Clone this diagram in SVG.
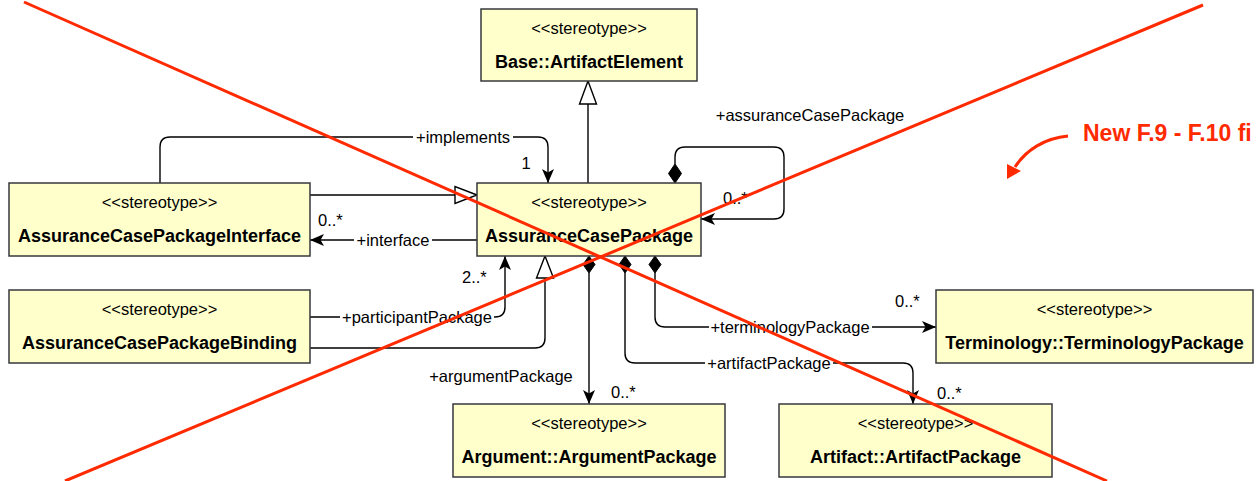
<svg xmlns="http://www.w3.org/2000/svg" width="1257" height="481" viewBox="0 0 1257 481">
<style>
.box{fill:#FFFFCC;stroke:#36393D;stroke-width:1.5}
.st{font-family:"Liberation Sans",Arial,sans-serif;font-size:16.5px;fill:#000;text-anchor:middle}
.nm{font-family:"Liberation Sans",Arial,sans-serif;font-size:18px;font-weight:bold;fill:#000;text-anchor:middle}
.lb{font-family:"Liberation Sans",Arial,sans-serif;font-size:16.5px;fill:#000}
.c{fill:none;stroke:#000;stroke-width:1.4}
.hol{fill:#fff;stroke:#000;stroke-width:1.4}
.dia{fill:#000;stroke:#000;stroke-width:1}
.red{stroke:#FF2A00;stroke-width:3;fill:none}
</style>
<defs>
<marker id="arr" markerWidth="16" markerHeight="14" refX="15" refY="7" orient="auto" markerUnits="userSpaceOnUse">
<path d="M1,1 L15,7 L1,13 L4.5,7 Z" fill="#000"/>
</marker>
</defs>

<g id="connectors">
<!-- generalization ACP -> Base -->
<path class="c" d="M588,183 V104"/>
<polygon class="hol" points="588,81 579.5,104 596.5,104"/>
<!-- implements -->
<path class="c" d="M160,183 V147 Q160,137 170,137 H538 Q548,137 548,147 V183" marker-end="url(#arr)"/>
<rect x="413" y="128" width="100" height="18" fill="#fff"/>
<text class="lb" x="463" y="143" text-anchor="middle">+implements</text>
<text class="lb" x="526" y="169" text-anchor="middle">1</text>
<!-- generalization Interface -> ACP -->
<path class="c" d="M310,195 H455"/>
<polygon class="hol" points="477,195 455,186.5 455,203.5"/>
<!-- interface -->
<path class="c" d="M477,240 H310" marker-end="url(#arr)"/>
<rect x="354" y="231" width="78" height="18" fill="#fff"/>
<text class="lb" x="393" y="246" text-anchor="middle">+interface</text>
<text class="lb" x="318" y="226">0..*</text>
<!-- participantPackage -->
<path class="c" d="M310,317 H495 Q505,317 505,307 V256" marker-end="url(#arr)"/>
<rect x="340" y="308" width="154" height="18" fill="#fff"/>
<text class="lb" x="417" y="323" text-anchor="middle">+participantPackage</text>
<text class="lb" x="462" y="283">2..*</text>
<!-- Binding generalization -> ACP -->
<path class="c" d="M310,348 H535 Q545,348 545,338 V278"/>
<polygon class="hol" points="545,256 536.5,278 553.5,278"/>
<!-- argumentPackage -->
<path class="c" d="M589,273 V404" marker-end="url(#arr)"/>
<polygon class="dia" points="589,256 595,264.5 589,273 583,264.5"/>
<text class="lb" x="501" y="382" text-anchor="middle">+argumentPackage</text>
<text class="lb" x="611" y="398">0..*</text>
<!-- artifactPackage -->
<path class="c" d="M625,273 V353 Q625,363 635,363 H903 Q913,363 913,373 V404" marker-end="url(#arr)"/>
<polygon class="dia" points="625,256 631,264.5 625,273 619,264.5"/>
<rect x="705" y="354" width="128" height="18" fill="#fff"/>
<text class="lb" x="769" y="369" text-anchor="middle">+artifactPackage</text>
<text class="lb" x="937" y="399">0..*</text>
<!-- terminologyPackage -->
<path class="c" d="M655,273 V317 Q655,327 665,327 H936" marker-end="url(#arr)"/>
<polygon class="dia" points="655,256 661,264.5 655,273 649,264.5"/>
<rect x="709" y="318" width="163" height="18" fill="#fff"/>
<text class="lb" x="790" y="333" text-anchor="middle">+terminologyPackage</text>
<text class="lb" x="895" y="307">0..*</text>
<!-- assuranceCasePackage self -->
<path class="c" d="M675,164 V157 Q675,147 685,147 H774 Q784,147 784,157 V209 Q784,219 774,219 H701" marker-end="url(#arr)"/>
<polygon class="dia" points="675,183 681.5,173.5 675,164 668.5,173.5"/>
<text class="lb" x="810" y="121" text-anchor="middle">+assuranceCasePackage</text>
<text class="lb" x="723" y="204">0..*</text>
</g>

<g id="base">
<rect class="box" x="481" y="9" width="216" height="72"/>
<text class="st" x="589" y="34">&lt;&lt;stereotype&gt;&gt;</text>
<text class="nm" x="589" y="68">Base::ArtifactElement</text>
</g>
<g id="acp">
<rect class="box" x="477" y="183" width="224" height="73"/>
<text class="st" x="589" y="208">&lt;&lt;stereotype&gt;&gt;</text>
<text class="nm" x="589" y="242">AssuranceCasePackage</text>
</g>
<g id="acpi">
<rect class="box" x="9" y="183" width="301" height="73"/>
<text class="st" x="159.5" y="208">&lt;&lt;stereotype&gt;&gt;</text>
<text class="nm" x="159.5" y="242">AssuranceCasePackageInterface</text>
</g>
<g id="acpb">
<rect class="box" x="9" y="290" width="301" height="73"/>
<text class="st" x="159.5" y="315">&lt;&lt;stereotype&gt;&gt;</text>
<text class="nm" x="159.5" y="349">AssuranceCasePackageBinding</text>
</g>
<g id="term">
<rect class="box" x="936" y="290" width="317" height="73"/>
<text class="st" x="1094.5" y="315">&lt;&lt;stereotype&gt;&gt;</text>
<text class="nm" x="1094.5" y="349">Terminology::TerminologyPackage</text>
</g>
<g id="arg">
<rect class="box" x="453" y="404" width="272" height="73"/>
<text class="st" x="589" y="429">&lt;&lt;stereotype&gt;&gt;</text>
<text class="nm" x="589" y="463">Argument::ArgumentPackage</text>
</g>
<g id="art">
<rect class="box" x="779" y="404" width="273" height="73"/>
<text class="st" x="915.5" y="429">&lt;&lt;stereotype&gt;&gt;</text>
<text class="nm" x="915.5" y="463">Artifact::ArtifactPackage</text>
</g>

<g id="annotation">
<line class="red" x1="24" y1="2" x2="1107" y2="481"/>
<line class="red" x1="1203" y1="5" x2="65" y2="481"/>
<path class="red" d="M1068,136 C1045,138 1026,150 1015,167"/>
<polygon points="1007,179 1007,164 1021,171" fill="#FF2A00"/>
<text x="1083" y="141" font-family="'Liberation Sans',Arial,sans-serif" font-size="23" font-weight="bold" fill="#FF2A00">New F.9 - F.10 fi</text>
</g>
</svg>
